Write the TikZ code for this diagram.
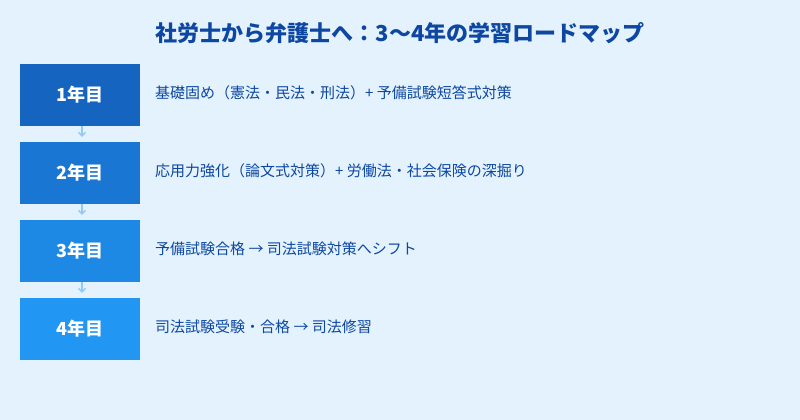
\documentclass[tikz,border=0pt]{standalone}
\usepackage{fontspec}
\setmainfont{Noto Sans CJK JP}
\usetikzlibrary{positioning, arrows.meta}
\definecolor{bgblue}{HTML}{E3F2FD}
\definecolor{titleblue}{HTML}{0D47A1}
\definecolor{yearA}{HTML}{1565C0}
\definecolor{yearB}{HTML}{1976D2}
\definecolor{yearC}{HTML}{1E88E5}
\definecolor{yearD}{HTML}{2196F3}
\definecolor{stepline}{HTML}{90CAF9}
\tikzset{
    yearbox/.style={minimum width=120pt, minimum height=62pt, inner sep=0pt,
        text=white, font=\fontsize{18pt}{20pt}\selectfont\bfseries},
    plan/.style={anchor=west, inner sep=0pt, text=titleblue,
        font=\fontsize{15pt}{17pt}\selectfont},
    nextyear/.style={-{Straight Barb[length=3.5pt, width=7pt]}, stepline, line width=1.3pt}
}
\begin{document}
\begin{tikzpicture}[x=1pt, y=-1pt]
        \fill[bgblue] (0,0) rectangle (800,420);
        \node[text=titleblue, font=\fontsize{22pt}{24pt}\selectfont\bfseries] (title) at (400,33) {社労士から弁護士へ：3〜4年の学習ロードマップ};

        \node[yearbox, fill=yearA] (y1) at (80,95) {1年目};
        \node[yearbox, fill=yearB] (y2) at (80,173) {2年目};
        \node[yearbox, fill=yearC] (y3) at (80,251) {3年目};
        \node[yearbox, fill=yearD] (y4) at (80,329) {4年目};

        \node[plan] (p1) at (155,93) {基礎固め（憲法・民法・刑法）+ 予備試験短答式対策};
        \node[plan] (p2) at (155,171) {応用力強化（論文式対策）+ 労働法・社会保険の深掘り};
        \node[plan] (p3) at (155,249) {予備試験合格 → 司法試験対策へシフト};
        \node[plan] (p4) at (155,327) {司法試験受験・合格 → 司法修習};

        \draw[nextyear] ([xshift=2pt]y1.south) -- ([xshift=2pt, yshift=5pt]y2.north);
        \draw[nextyear] ([xshift=2pt]y2.south) -- ([xshift=2pt, yshift=5pt]y3.north);
        \draw[nextyear] ([xshift=2pt]y3.south) -- ([xshift=2pt, yshift=5pt]y4.north);
    \end{tikzpicture}
\end{document}
